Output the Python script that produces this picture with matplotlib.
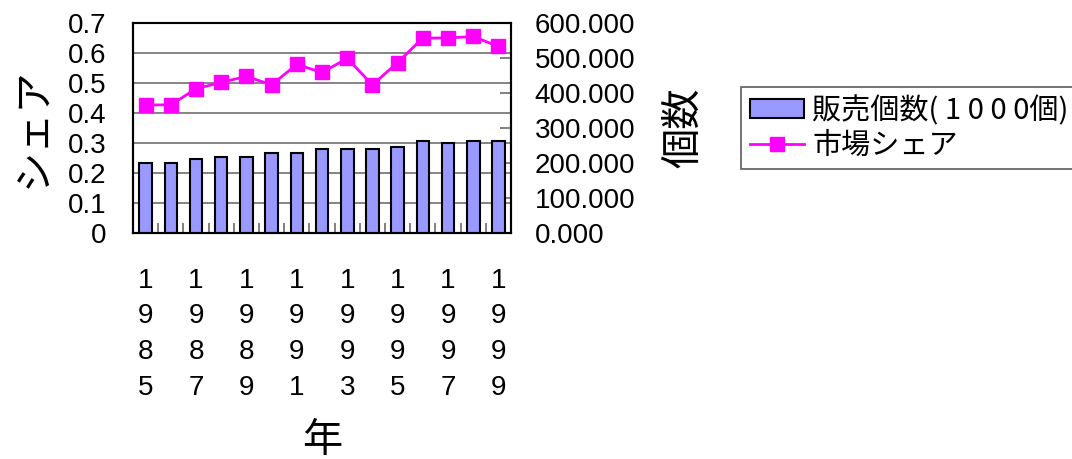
import matplotlib
matplotlib.use("Agg")
import matplotlib.pyplot as plt
import numpy as np

years = [1985, 1986, 1987, 1988, 1989, 1990, 1991, 1992, 1993, 1994, 1995, 1996, 1997, 1998, 1999]
sales = [200, 200, 212, 218, 218, 229, 229, 241, 241, 241, 246, 264, 258, 264, 264]
share = [0.427, 0.427, 0.481, 0.502, 0.522, 0.494, 0.562, 0.535, 0.582, 0.494, 0.568, 0.650, 0.650, 0.655, 0.622]
share_ticks = [0, 0.1, 0.2, 0.3, 0.4, 0.5, 0.6, 0.7]
share_ticklabels = ["0", "0.1", "0.2", "0.3", "0.4", "0.5", "0.6", "0.7"]
sales_ticks = [0, 100, 200, 300, 400, 500, 600]
sales_label = "販売個数( 1 0 0 0個)"
share_label = "市場シェア"
xlabel = "年"
ylabel_left = "シェア"
ylabel_right = "個数"

LAT = ["Liberation Sans", "Noto Sans CJK JP"]
CJK = ["Noto Sans CJK JP", "DejaVu Sans"]

fig = plt.figure(figsize=(10.72, 4.59), dpi=100)
ax1 = fig.add_axes([133/1072, 1-233/459, (511-133)/1072, (233-23)/459])
ax2 = ax1.twinx()
ax3 = ax1.twinx()

x = np.arange(len(years))

# share axis (left) with gridlines
ax1.set_ylim(0, 0.7)
ax1.set_yticks(share_ticks)
ax1.set_yticklabels(share_ticklabels, family=LAT, fontsize=20)
ax1.yaxis.grid(True, color="#707070", linewidth=1.2)
ax1.set_axisbelow(True)
ax1.tick_params(axis="y", length=0, pad=19)
ax1.set_xlim(-0.5, len(years) - 0.5)
ax1.set_xticks(x[::2])
ax1.set_xticklabels(["\n".join(str(y)) for y in years[::2]], family=LAT, fontsize=20, linespacing=1.48)
ax1.set_xticks(x[:-1] + 0.5, minor=True)
ax1.tick_params(axis="x", which="major", length=0, pad=25)
ax1.tick_params(axis="x", which="minor", direction="in", length=7, width=1.4, color="#808080")
ax1.set_ylabel(ylabel_left, family=CJK, fontsize=29, labelpad=10)
ax1.set_xlabel(xlabel, family=CJK, fontsize=29, labelpad=14)

# sales axis (right) with bars
ax2.bar(x, sales, width=0.5, color="#9999FF", edgecolor="black", linewidth=1.5, label=sales_label, zorder=2)
ax2.set_ylim(0, 600)
ax2.set_yticks(sales_ticks)
ax2.set_yticklabels([f"{v:.3f}" for v in sales_ticks], family=LAT, fontsize=20)
ax2.tick_params(axis="y", direction="in", length=8, width=1.4, color="#808080", pad=17)
ax2.set_ylabel(ylabel_right, family=CJK, fontsize=29, labelpad=20, rotation=90)
ax2.yaxis.set_label_position("right")

# line axis (invisible, same scale as share)
ax3.plot(x, share, color="#FF00FF", linewidth=2, marker="s", markersize=9.5, label=share_label)
ax3.set_ylim(0, 0.7)
ax3.axis("off")

for ax in (ax1, ax2):
    for s in ax.spines.values():
        s.set_color("black")
        s.set_linewidth(1.5)
ax1.spines["top"].set_color("#555555")

h2, l2 = ax2.get_legend_handles_labels()
h3, l3 = ax3.get_legend_handles_labels()
leg = fig.legend(h2 + h3, l2 + l3, loc="upper left", bbox_to_anchor=(741/1072, 1-87/459),
                 prop={"family": CJK, "size": 21}, frameon=True, fancybox=False,
                 handlelength=1.86, handleheight=0.62, handletextpad=0.28, borderpad=0.3,
                 labelspacing=0.15, borderaxespad=0)
leg.get_frame().set_edgecolor("#333333")
leg.get_frame().set_linewidth(1.2)

fig.savefig("out.png", dpi=100)
